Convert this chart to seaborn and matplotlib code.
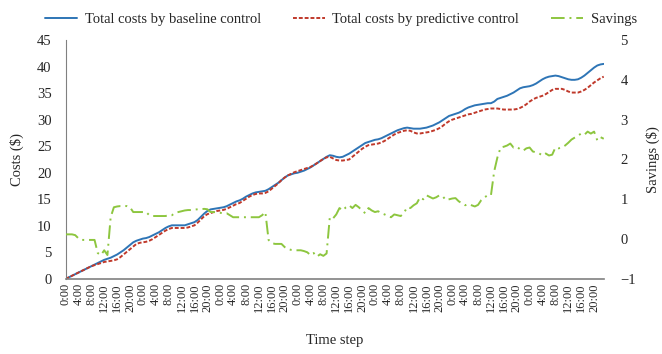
import matplotlib
matplotlib.use("Agg")
import matplotlib.pyplot as plt
import numpy as np
import seaborn as sns

# hourly time steps over 7 days
hours = np.arange(168)
tick_hours = ["0:00", "4:00", "8:00", "12:00", "16:00", "20:00"]

baseline = [
    0.0, 0.3, 0.6, 0.9, 1.2, 1.5, 1.8, 2.1, 2.4, 2.7, 3.0, 3.3, 3.6, 3.8, 4.0, 4.3, 4.6, 5.0, 5.4, 5.9, 6.4, 6.9, 7.2, 7.4,
    7.6, 7.7, 7.9, 8.2, 8.5, 8.8, 9.2, 9.6, 9.9, 10.1, 10.1, 10.1, 10.1, 10.1, 10.3, 10.5, 10.7, 11.1, 11.7, 12.3, 12.8, 13.1, 13.2, 13.3,
    13.4, 13.5, 13.7, 14.0, 14.3, 14.6, 14.8, 15.1, 15.5, 15.8, 16.1, 16.3, 16.4, 16.5, 16.6, 16.9, 17.3, 17.7, 18.1, 18.6, 19.1, 19.5, 19.7, 19.9,
    20.0, 20.2, 20.4, 20.7, 21.0, 21.4, 21.8, 22.2, 22.6, 23.0, 23.3, 23.2, 23.0, 22.9, 23.0, 23.3, 23.6, 24.0, 24.4, 24.8, 25.2, 25.6, 25.8, 26.0,
    26.2, 26.3, 26.5, 26.8, 27.1, 27.4, 27.7, 28.0, 28.2, 28.4, 28.5, 28.4, 28.3, 28.3, 28.3, 28.4, 28.5, 28.7, 28.9, 29.2, 29.5, 29.9, 30.3, 30.7,
    30.9, 31.1, 31.3, 31.6, 32.0, 32.3, 32.5, 32.7, 32.8, 32.9, 33.0, 33.1, 33.1, 33.4, 33.9, 34.1, 34.3, 34.5, 34.8, 35.1, 35.5, 35.9, 36.1, 36.2,
    36.3, 36.5, 36.8, 37.2, 37.6, 37.9, 38.1, 38.2, 38.3, 38.2, 38.0, 37.8, 37.6, 37.5, 37.5, 37.6, 37.9, 38.3, 38.8, 39.3, 39.8, 40.2, 40.4, 40.5,
]

predictive = [
    0.0, 0.3, 0.6, 0.9, 1.2, 1.5, 1.8, 2.1, 2.4, 2.6, 2.8, 3.0, 3.2, 3.3, 3.4, 3.5, 3.7, 4.1, 4.6, 5.1, 5.6, 6.1, 6.6, 6.8,
    6.9, 7.0, 7.2, 7.5, 7.9, 8.3, 8.7, 9.1, 9.4, 9.6, 9.6, 9.6, 9.6, 9.6, 9.7, 9.9, 10.1, 10.6, 11.2, 11.8, 12.2, 12.4, 12.6, 12.8,
    12.9, 13.0, 13.2, 13.5, 13.8, 14.1, 14.3, 14.7, 15.1, 15.5, 15.8, 16.0, 16.1, 16.1, 16.2, 16.5, 17.0, 17.5, 18.0, 18.6, 19.1, 19.5, 19.8, 20.1,
    20.3, 20.5, 20.7, 20.9, 21.1, 21.4, 21.8, 22.2, 22.6, 22.9, 23.0, 22.7, 22.4, 22.3, 22.3, 22.4, 22.5, 23.0, 23.5, 24.0, 24.5, 24.9, 25.2, 25.3,
    25.4, 25.5, 25.7, 26.0, 26.4, 26.8, 27.2, 27.5, 27.7, 27.9, 28.0, 27.9, 27.6, 27.4, 27.4, 27.5, 27.6, 27.7, 27.9, 28.1, 28.4, 28.8, 29.3, 29.7,
    30.0, 30.2, 30.4, 30.6, 30.8, 31.0, 31.1, 31.3, 31.5, 31.7, 31.9, 32.0, 32.1, 32.1, 32.1, 32.0, 31.9, 31.9, 31.9, 31.9, 32.0, 32.2, 32.5, 32.9,
    33.4, 33.8, 34.1, 34.3, 34.5, 34.8, 35.2, 35.6, 35.8, 35.8, 35.8, 35.6, 35.3, 35.1, 35.1, 35.1, 35.3, 35.6, 36.0, 36.5, 37.0, 37.4, 37.8, 38.1,
]

savings = [
    0.12, 0.12, 0.12, 0.10, 0.02, -0.02, -0.02, -0.02, -0.02, -0.02, -0.35, -0.40, -0.28, -0.40, 0.55, 0.80, 0.82, 0.83, 0.83, 0.83, 0.80, 0.68, 0.68, 0.68,
    0.68, 0.68, 0.60, 0.58, 0.58, 0.58, 0.58, 0.58, 0.60, 0.60, 0.66, 0.68, 0.70, 0.72, 0.73, 0.73, 0.74, 0.75, 0.75, 0.76, 0.75, 0.68, 0.68, 0.67,
    0.66, 0.65, 0.65, 0.60, 0.55, 0.55, 0.55, 0.55, 0.55, 0.55, 0.55, 0.55, 0.55, 0.60, 0.68, -0.02, -0.10, -0.12, -0.12, -0.12, -0.20, -0.25, -0.27, -0.28,
    -0.28, -0.28, -0.30, -0.33, -0.40, -0.35, -0.44, -0.38, -0.42, -0.36, 0.55, 0.52, 0.62, 0.78, 0.72, 0.80, 0.85, 0.78, 0.86, 0.80, 0.72, 0.65, 0.78, 0.72,
    0.68, 0.70, 0.65, 0.62, 0.58, 0.55, 0.62, 0.60, 0.58, 0.66, 0.80, 0.78, 0.85, 0.90, 1.05, 1.00, 1.10, 1.06, 1.02, 1.05, 1.10, 1.08, 0.98, 1.00,
    1.02, 1.03, 0.95, 0.90, 0.85, 0.88, 0.85, 0.82, 0.86, 0.98, 1.05, 1.10, 1.10, 1.70, 2.05, 2.30, 2.32, 2.35, 2.40, 2.30, 2.32, 2.26, 2.22, 2.28,
    2.30, 2.20, 2.18, 2.15, 2.10, 2.15, 2.10, 2.12, 2.30, 2.28, 2.30, 2.35, 2.42, 2.50, 2.55, 2.60, 2.65, 2.62, 2.70, 2.65, 2.70, 2.48, 2.56, 2.52,
]

sns.set_style("white")
plt.rcParams['font.family'] = ['Liberation Serif', 'DejaVu Serif']

fig, ax = plt.subplots(figsize=(6.62, 3.54), dpi=100)
fig.subplots_adjust(left=0.099, right=0.912, top=0.887, bottom=0.212)

blue = "#2e75b6"
red = "#c0392b"
green = "#8dc63f"

sns.lineplot(x=hours, y=baseline, ax=ax, color=blue, lw=1.4, label="Total costs by baseline control", legend=False)
sns.lineplot(x=hours, y=predictive, ax=ax, color=red, lw=1.4, label="Total costs by predictive control", legend=False)
ax.lines[1].set_dashes((2, 1))

ax2 = ax.twinx()
sns.lineplot(x=hours, y=savings, ax=ax2, color=green, lw=1.4, label="Savings", legend=False)
ax2.lines[0].set_dashes((7, 2.5, 1, 2.5))

ax.set_xlim(0, 167)
ax.set_ylim(0, 45)
ax.set_yticks(range(0, 46, 5))
ax2.set_ylim(-1, 5)
ax2.set_yticks(range(-1, 6))

ticks = hours[::4]
ax.set_xticks(ticks)
ax.set_xticklabels([tick_hours[i % 6] for i in range(len(ticks))], rotation=90, fontsize=9)
ax.tick_params(axis="y", labelsize=10.5, length=0, pad=10)
ax.tick_params(axis="x", length=0, pad=3)
ax2.tick_params(axis="y", labelsize=10.5, length=0, pad=12)

for a in (ax, ax2):
    for s in a.spines.values():
        s.set_visible(False)
ax.spines["left"].set_visible(True)
ax.spines["bottom"].set_visible(True)
ax.spines["left"].set_color("#808080")
ax.spines["bottom"].set_color("#808080")
ax.spines["bottom"].set_linewidth(1.2)

ax.set_xlabel("Time step", fontsize=10.5, labelpad=16)
ax.set_ylabel("Costs ($)", fontsize=10.5, labelpad=9)
ax2.set_ylabel("Savings ($)", fontsize=10.5, labelpad=7)

h1, l1 = ax.get_legend_handles_labels()
h2, l2 = ax2.get_legend_handles_labels()
fig.legend(h1 + h2, l1 + l2, loc="upper center", bbox_to_anchor=(0.515, 1.0), ncol=3,
           frameon=False, fontsize=10.5, handlelength=2.2, handletextpad=0.5, columnspacing=2.2)

fig.savefig("out.png", dpi=100)
